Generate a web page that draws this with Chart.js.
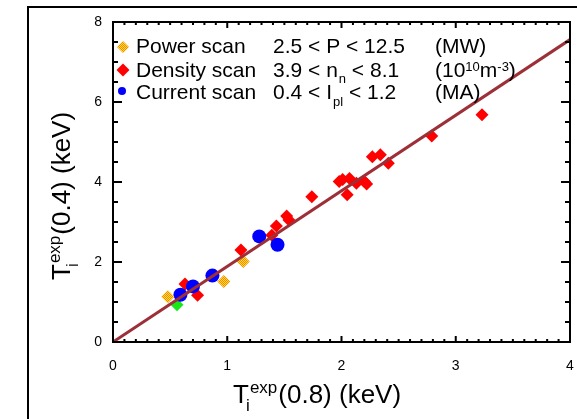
<!DOCTYPE html>
<html>
<head>
<meta charset="utf-8">
<script src="https://cdn.jsdelivr.net/npm/chart.js@4.4.0/dist/chart.umd.min.js"></script>
<style>
  html, body { margin: 0; padding: 0; background: #fff; }
  #grafico { display: block; }
</style>
</head>
<body>
<canvas id="grafico" width="577" height="419"></canvas>
<script>
// Ejes
const xTicks = [0, 1, 2, 3, 4];
const yTicks = [0, 2, 4, 6, 8];

// Power scan
const powerX = [0.48, 0.97, 1.14];
const powerY = [1.13, 1.51, 2.01];

// Density scan
const densityX = [0.63, 0.74, 1.12, 1.39, 1.43, 1.52, 1.54, 1.74, 1.98, 2.01, 2.07, 2.05, 2.13, 2.20, 2.22, 2.27, 2.34, 2.41, 2.79, 3.23];
const densityY = [1.45, 1.17, 2.30, 2.67, 2.90, 3.15, 3.05, 3.63, 4.01, 4.06, 4.09, 3.68, 3.97, 4.01, 3.95, 4.63, 4.68, 4.47, 5.15, 5.68];

// Current scan
const currentX = [0.59, 0.70, 0.87, 1.28, 1.44];
const currentY = [1.18, 1.39, 1.66, 2.64, 2.43];

// punto verde (fuera de la leyenda)
const otherX = [0.56];
const otherY = [0.93];

// recta de ajuste
const fitX = [0, 4];
const fitY = [0, 7.56];

const FONT = "'Liberation Sans', Arial, sans-serif";

const pares = (xs, ys) => xs.map((x, i) => ({ x, y: ys[i] }));

const canvas = document.getElementById('grafico');
const ctx0 = canvas.getContext('2d');

// patrón a cuadros naranja/amarillo
function crearCuadros() {
    const c = document.createElement('canvas');
    c.width = 2; c.height = 2;
    const g = c.getContext('2d');
    g.fillStyle = '#ffe21a';
    g.fillRect(0, 0, 2, 2);
    g.fillStyle = '#f5861f';
    g.fillRect(0, 0, 1, 1);
    g.fillRect(1, 1, 1, 1);
    return ctx0.createPattern(c, 'repeat');
}
const cuadros = crearCuadros();

// texto con subíndices / superíndices
function textoRico(ctx, x, y, partes, rot) {
    ctx.save();
    ctx.translate(x, y);
    if (rot) ctx.rotate(rot);
    ctx.fillStyle = '#000';
    ctx.textBaseline = 'alphabetic';
    ctx.textAlign = 'left';
    let cx = 0;
    for (const p of partes) {
        ctx.font = p.size + 'px ' + FONT;
        cx += p.dx || 0;
        ctx.fillText(p.t, cx, p.dy || 0);
        if (!p.noAdvance) cx += ctx.measureText(p.t).width;
    }
    ctx.restore();
}

const leyenda = [
    { estilo: 'rectRot', color: cuadros, r: 6, px: 123, py: 47 },
    { estilo: 'rectRot', color: '#ff0000', r: 6.5, px: 123, py: 70 },
    { estilo: 'circle', color: '#0000ff', r: 4, px: 122, py: 91 }
];

// sin relleno extra de las etiquetas extremas
function fijar(s, w, h) {
    if (w) s.width = w;
    if (h) s.height = h;
    s.paddingLeft = 0;
    s.paddingRight = 0;
    s.paddingTop = 0;
    s.paddingBottom = 0;
}

const marcoPlugin = {
    id: 'marco',
    beforeDraw(chart) {
        const ctx = chart.ctx;
        ctx.save();
        ctx.fillStyle = '#fff';
        ctx.fillRect(0, 0, chart.width, chart.height);
        ctx.strokeStyle = '#000';
        ctx.lineWidth = 2;
        ctx.beginPath();
        ctx.moveTo(28, 425);
        ctx.lineTo(28, 7);
        ctx.lineTo(590, 7);
        ctx.stroke();
        ctx.restore();
    },
    afterDraw(chart) {
        const ctx = chart.ctx;
        const a = chart.chartArea;
        const sx = chart.scales.x, sy = chart.scales.y;
        ctx.save();
        ctx.strokeStyle = '#000';
        ctx.lineWidth = 2;
        ctx.strokeRect(a.left, a.top, a.right - a.left, a.bottom - a.top);

        // marcas hacia dentro
        ctx.beginPath();
        for (let i = 0; i <= 40; i++) {
            const px = sx.getPixelForValue(i / 10);
            const l = i % 10 === 0 ? 6 : 3;
            ctx.moveTo(px, a.bottom); ctx.lineTo(px, a.bottom - l);
            ctx.moveTo(px, a.top); ctx.lineTo(px, a.top + l);
        }
        for (let i = 0; i <= 16; i++) {
            const py = sy.getPixelForValue(i / 2);
            const l = i % 4 === 0 ? 9 : 5;
            ctx.moveTo(a.left, py); ctx.lineTo(a.left + l, py);
            ctx.moveTo(a.right, py); ctx.lineTo(a.right - l, py);
        }
        ctx.stroke();
        ctx.restore();

        // leyenda
        for (const it of leyenda) {
            ctx.save();
            ctx.fillStyle = it.color;
            Chart.helpers.drawPoint(ctx, { pointStyle: it.estilo, radius: it.r, rotation: 0, borderWidth: 0 }, it.px, it.py);
            ctx.restore();
        }
        const L = 21, S = 13;
        textoRico(ctx, 136, 53, [{ t: 'Power scan', size: L }]);
        textoRico(ctx, 273, 53, [{ t: '2.5 < P < 12.5', size: L }]);
        textoRico(ctx, 435, 53, [{ t: '(MW)', size: L }]);

        textoRico(ctx, 136, 77, [{ t: 'Density scan', size: L }]);
        textoRico(ctx, 273, 77, [
            { t: '3.9 < n', size: L },
            { t: 'n', size: S, dy: 6, dx: 1 },
            { t: ' < 8.1', size: L }
        ]);
        textoRico(ctx, 435, 77, [
            { t: '(10', size: L },
            { t: '10', size: S, dy: -6 },
            { t: 'm', size: L },
            { t: '-3', size: S, dy: -6 },
            { t: ')', size: L }
        ]);

        textoRico(ctx, 136, 99, [{ t: 'Current scan', size: L }]);
        textoRico(ctx, 273, 99, [
            { t: '0.4 < I', size: L },
            { t: 'pl', size: S, dy: 7, dx: 1 },
            { t: ' < 1.2', size: L }
        ]);
        textoRico(ctx, 435, 99, [{ t: '(MA)', size: L }]);

        // títulos de ejes
        const T = 26, s = 17;
        const tituloX = [
            { t: 'T', size: T },
            { t: 'i', size: s, dy: 8, dx: -3, noAdvance: true },
            { t: 'exp', size: s, dy: -10, dx: 4 },
            { t: '(0.8) (keV)', size: T, dx: 1 }
        ];
        textoRico(ctx, 233, 403, tituloX);
        const tituloY = [
            { t: 'T', size: T },
            { t: 'i', size: s, dy: 8, dx: -3, noAdvance: true },
            { t: 'exp', size: s, dy: -10, dx: 4 },
            { t: '(0.4) (keV)', size: T, dx: 1 }
        ];
        textoRico(ctx, 70, 280, tituloY, -Math.PI / 2);
    }
};

new Chart(canvas, {
    type: 'scatter',
    data: {
        datasets: [
            {
                type: 'line',
                label: 'ajuste',
                data: pares(fitX, fitY),
                borderColor: '#9c2f38',
                borderWidth: 3,
                pointRadius: 0,
                fill: false
            },
            {
                label: 'Power scan',
                data: pares(powerX, powerY),
                backgroundColor: cuadros,
                pointStyle: 'rectRot',
                pointRadius: 6.5,
                borderWidth: 0
            },
            {
                label: 'Current scan',
                data: pares(currentX, currentY),
                backgroundColor: '#0000ff',
                pointStyle: 'circle',
                pointRadius: 7,
                borderWidth: 0
            },
            {
                label: 'Density scan',
                data: pares(densityX, densityY),
                backgroundColor: '#ff0000',
                pointStyle: 'rectRot',
                pointRadius: 6.5,
                borderWidth: 0
            },
            {
                label: 'otro',
                data: pares(otherX, otherY),
                backgroundColor: '#18e818',
                pointStyle: 'rectRot',
                pointRadius: 6.5,
                borderWidth: 0
            }
        ]
    },
    options: {
        responsive: false,
        animation: false,
        devicePixelRatio: 1,
        events: [],
        layout: { padding: { left: 0, top: 22, right: 6, bottom: 0 } },
        plugins: {
            legend: { display: false },
            tooltip: { enabled: false }
        },
        scales: {
            x: {
                type: 'linear',
                min: 0,
                max: 4,
                afterBuildTicks: (s) => { s.ticks = xTicks.map(v => ({ value: v })); },
                afterFit: (s) => fijar(s, 0, 77),
                grid: { display: false, drawTicks: false },
                border: { display: false },
                ticks: { padding: 16, color: '#000', font: { family: FONT, size: 14 } }
            },
            y: {
                type: 'linear',
                min: 0,
                max: 8,
                afterBuildTicks: (s) => { s.ticks = yTicks.map(v => ({ value: v })); },
                afterFit: (s) => fijar(s, 113, 0),
                grid: { display: false, drawTicks: false },
                border: { display: false },
                ticks: { padding: 11, color: '#000', font: { family: FONT, size: 14 } }
            }
        }
    },
    plugins: [marcoPlugin]
});
</script>
</body>
</html>
